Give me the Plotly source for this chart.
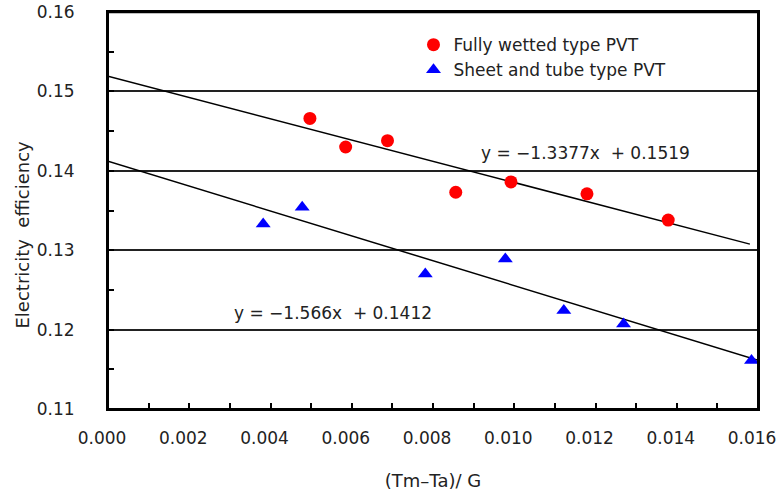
import plotly.graph_objects as go

fw_x = [0.00497, 0.00585, 0.00688, 0.00856, 0.00992, 0.01179, 0.01379]
fw_y = [0.1466, 0.1430, 0.1438, 0.1373, 0.1386, 0.1371, 0.1338]
st_x = [0.00382, 0.00478, 0.00781, 0.00978, 0.01122, 0.01269, 0.01584]
st_y = [0.1333, 0.1354, 0.1270, 0.1289, 0.1224, 0.1207, 0.1161]

fw_slope, fw_int = -1.3377, 0.1519
st_slope, st_int = -1.566, 0.1412
fw_line_x = [0.0, 0.0158]
st_line_x = [0.0, 0.016]

y_ticks = [0.11, 0.12, 0.13, 0.14, 0.15, 0.16]

FONT = "DejaVu Sans"
TXT = "#222222"

fig = go.Figure()
fig.add_trace(go.Scatter(x=fw_line_x, y=[fw_int + fw_slope * v for v in fw_line_x],
                         mode="lines", line=dict(color="black", width=1.5), showlegend=False))
fig.add_trace(go.Scatter(x=st_line_x, y=[st_int + st_slope * v for v in st_line_x],
                         mode="lines", line=dict(color="black", width=1.5), showlegend=False))
fig.add_trace(go.Scatter(x=fw_x, y=fw_y, mode="markers", name="Fully wetted type PVT",
                         marker=dict(symbol="circle", color="#ff0000", size=13)))
fig.add_trace(go.Scatter(x=st_x, y=st_y, mode="markers", name="Sheet and tube type PVT",
                         marker=dict(symbol="triangle-up", color="#0000ff", size=13)))

fig.add_annotation(x=0.00913, y=0.1423, xref="x", yref="y", text="y = \u22121.3377x  + 0.1519",
                   showarrow=False, xanchor="left", yanchor="middle",
                   font=dict(family=FONT, size=17, color=TXT))
fig.add_annotation(x=0.00305, y=0.1221, xref="x", yref="y", text="y = \u22121.566x  + 0.1412",
                   showarrow=False, xanchor="left", yanchor="middle",
                   font=dict(family=FONT, size=17, color=TXT))
# y-axis title
fig.add_annotation(x=-0.132, y=0.44, xref="paper", yref="paper", text="Electricity  efficiency",
                   showarrow=False, textangle=-90, xanchor="center", yanchor="middle",
                   font=dict(family=FONT, size=18, color=TXT))

# plot frame
fig.add_shape(type="rect", xref="paper", yref="paper", x0=0, x1=1, y0=0, y1=1,
              line=dict(color="black", width=2), layer="above")
fig.add_shape(type="line", xref="x domain", yref="y domain", x0=0, x1=1, y0=1, y1=1,
              line=dict(color="black", width=2.5), layer="above")

fig.update_layout(
    width=780, height=495,
    margin=dict(l=108, r=22, t=12, b=86),
    paper_bgcolor="white", plot_bgcolor="white",
    font=dict(family=FONT, size=17, color=TXT),
    legend=dict(x=0.47, y=0.962, xanchor="left", yanchor="top",
                bgcolor="rgba(0,0,0,0)", font=dict(size=17, color=TXT),
                itemwidth=30, tracegroupgap=0),
    xaxis=dict(range=[0, 0.016], dtick=0.002, tick0=0, tickformat=".3f",
               showline=True, linecolor="black", linewidth=2, mirror=True,
               ticks="inside", ticklen=6, tickcolor="black", tickwidth=1.5,
               minor=dict(dtick=0.001, ticks="inside", ticklen=6, tickcolor="black", tickwidth=1.5),
               showgrid=False, zeroline=False, automargin=False,
               ticklabelstandoff=13, ticklabelshift=-6, ticklabeloverflow="allow",
               title=dict(text="(Tm\u2013Ta)/ G", font=dict(size=18), standoff=27)),
    yaxis=dict(range=[0.11, 0.16], tickmode="array", tickvals=y_ticks,
               ticktext=[f"{v:.2f}" for v in y_ticks],
               showline=True, linecolor="black", linewidth=2, mirror=True,
               ticks="inside", ticklen=6, tickcolor="black", tickwidth=1.5,
               minor=dict(dtick=0.005, tick0=0.11, ticks="inside", ticklen=6, tickcolor="black", tickwidth=1.5),
               showgrid=True, gridcolor="#222222", gridwidth=1.5, zeroline=False,
               automargin=False, ticklabelstandoff=28, ticklabeloverflow="allow"),
)

fig.write_html("out.html", config={"displayModeBar": False},
               post_script="document.body.style.margin='0px';document.body.style.overflow='hidden';")
